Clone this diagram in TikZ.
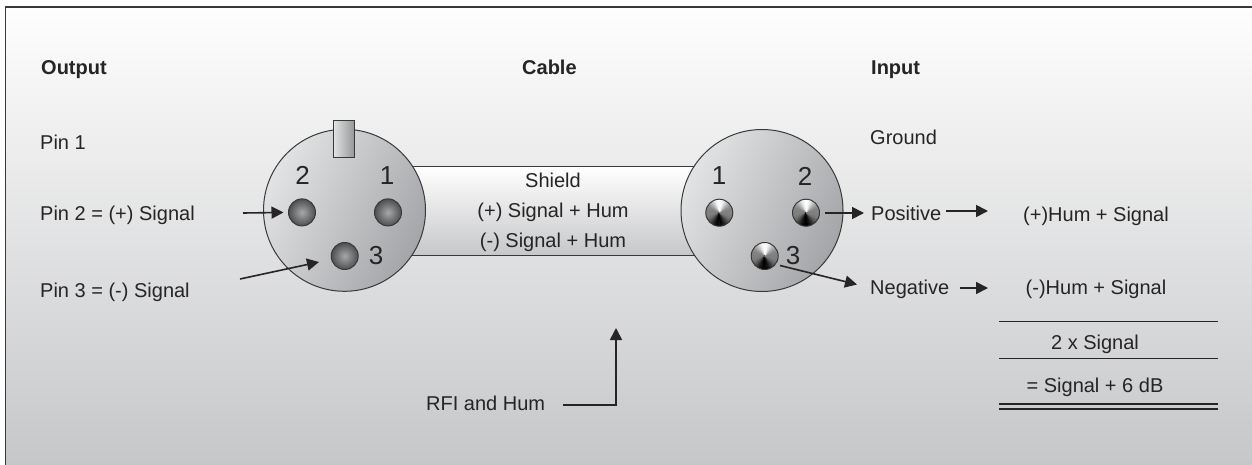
\documentclass[tikz,border=0pt]{standalone}
\usepackage{fontspec}
\setmainfont{Liberation Sans}
\usetikzlibrary{arrows.meta}
\definecolor{ink}{HTML}{262425}
\definecolor{edge}{HTML}{3A393A}
\definecolor{bgtop}{HTML}{FEFEFE}
\definecolor{bgbot}{HTML}{C6C7C9}
\definecolor{shelllight}{HTML}{E2E3E4}
\definecolor{shelldark}{HTML}{A4A5A8}
\definecolor{pincore}{HTML}{A6A8AA}
\definecolor{pinrim}{HTML}{4E4F50}
\tikzset{
  label text/.style={font=\fontsize{20}{22}\selectfont,text=ink,inner sep=0pt},
  left text/.style={label text,anchor=base west},
  mid text/.style={label text,anchor=base},
  head text/.style={left text,font=\fontsize{20}{22}\selectfont\bfseries},
  digit/.style={label text,anchor=center,font=\fontsize{26}{28}\selectfont},
  shell/.style={circle,inner sep=0pt,minimum size=162pt,draw=edge,line width=1pt,
    top color=shelllight,bottom color=shelldark,shading angle=62},
  dull pin/.style={circle,inner sep=0pt,minimum size=27pt,draw=edge,line width=1pt,
    inner color=pincore,outer color=pinrim},
  shiny pin/.style={circle,inner sep=0pt,minimum size=27pt,draw=edge,line width=1pt,
    path picture={
      \foreach \a in {0,5,...,355}{
        \pgfmathsetmacro{\g}{min(100,max(0,50-50*sign(cos(\a+2.5-90))*abs(cos(\a+2.5-90))^3*(-1)))}
        \pgfmathsetmacro{\k}{100-\g}
        \fill[black!\k!white,draw=black!\k!white,line width=.3pt] (path picture bounding box.center) -- ++(\a:16pt) -- ++(\a+90:1.6pt) -- cycle;
      }}},
  sig arrow/.style={draw=ink,line width=1.6pt,-{Triangle[length=12pt,width=12pt]}},
  rule line/.style={draw=ink,line width=1.1pt},
}
\begin{document}
\begin{tikzpicture}[x=1pt,y=-1pt]
\useasboundingbox (0,0) rectangle (1252,465);
% background panel
\node[inner sep=0pt,outer sep=0pt,anchor=north west,minimum width=1246.5pt,minimum height=458pt,
  top color=bgtop,bottom color=bgbot] (panel) at (5.5,7) {};
\draw[draw=edge,line width=1.3pt] (panel.north east) -- (panel.north west) -- (panel.south west);
% cable
\node[inner sep=0pt,anchor=center,minimum width=340pt,minimum height=89pt,
  top color=white,bottom color=bgbot] (cable) at (553,211.2) {};
\draw[draw=edge,line width=1.1pt] (cable.north west) -- (cable.north east);
\draw[draw=edge,line width=1.1pt] (cable.south west) -- (cable.south east);
% connectors
\node[shell] (lshell) at (344.5,210.3) {};
\node[shell] (rshell) at (762,210.5) {};
\node[inner sep=0pt,minimum width=21.5pt,minimum height=37.5pt,draw=edge,line width=1pt,
  left color=shelllight,right color=shelldark!90!black] (tab) at (344,139) {};
% left pins
\node[dull pin] (lp2) at (302,212.4) {};
\node[dull pin] (lp1) at (388,212.4) {};
\node[dull pin] (lp3) at (344.7,256) {};
\node[digit] (d2) at (302.5,175.5) {2};
\node[digit] (d1) at (387,175.5) {1};
\node[digit] (d3) at (376,255.5) {3};
% right pins
\node[shiny pin] (rp1) at (719.3,212.7) {};
\node[shiny pin] (rp2) at (806,212.7) {};
\node[shiny pin] (rp3) at (764.7,256) {};
\node[digit] (e1) at (719,176) {1};
\node[digit] (e2) at (805,176) {2};
\node[digit] (e3) at (793,256) {3};
% headings
\node[head text] (hout) at (41,75) {Output};
\node[head text] (hcab) at (522,75) {Cable};
\node[head text] (hin) at (871,75) {Input};
% left column
\node[left text] (t1) at (40,150) {Pin 1};
\node[left text] (t2) at (40,220) {Pin 2 = (+) Signal};
\node[left text] (t3) at (40,297) {Pin 3 = (-) Signal};
% cable text
\node[mid text] (s0) at (553,187) {Shield};
\node[mid text] (s1) at (553,217) {(+) Signal + Hum};
\node[mid text] (s2) at (553,247) {(-) Signal + Hum};
% right column
\node[left text] (g) at (870,145) {Ground};
\node[left text] (pos) at (871,220) {Positive};
\node[left text] (neg) at (870,294) {Negative};
\node[mid text] (ph) at (1096,221) {(+)Hum + Signal};
\node[mid text] (nh) at (1096,294) {(-)Hum + Signal};
\node[mid text] (two) at (1095,349) {2 x Signal};
\node[mid text] (six) at (1095,392) {= Signal + 6 dB};
\node[left text] (rfi) at (426,410) {RFI and Hum};
% free ends
\coordinate (a2s) at (243,213);
\coordinate (a3s) at (240,279);
\coordinate (a3e) at (319,262);
\coordinate (b2s) at (825,213);
\coordinate (b2e) at (864,213);
\coordinate (b3s) at (780,265.5);
\coordinate (b3e) at (857,284.5);
\coordinate (c1s) at (946,211);
\coordinate (c1e) at (988,211);
\coordinate (c2s) at (960,288);
\coordinate (c2e) at (988,288);
\coordinate (rs) at (563,405);
\coordinate (rc) at (616,405);
\coordinate (re) at (616,328);
\draw[sig arrow,shorten >=4.5pt] (a2s) -- (lp2.west);
\draw[sig arrow] (a3s) -- (a3e);
\draw[sig arrow] (b2s) -- (b2e);
\draw[sig arrow] (b3s) -- (b3e);
\draw[sig arrow] (c1s) -- (c1e);
\draw[sig arrow] (c2s) -- (c2e);
\draw[sig arrow] (rs) -- (rc) -- (re);
% sum rules
\coordinate (r1a) at (999,321.7); \coordinate (r1b) at (1218,321.7);
\coordinate (r2a) at (999,358.7); \coordinate (r2b) at (1218,358.7);
\coordinate (r3a) at (999,404); \coordinate (r3b) at (1218,404);
\coordinate (r4a) at (999,409); \coordinate (r4b) at (1218,409);
\draw[rule line] (r1a) -- (r1b);
\draw[rule line] (r2a) -- (r2b);
\draw[rule line] (r3a) -- (r3b);
\draw[rule line] (r4a) -- (r4b);
\end{tikzpicture}
\end{document}
